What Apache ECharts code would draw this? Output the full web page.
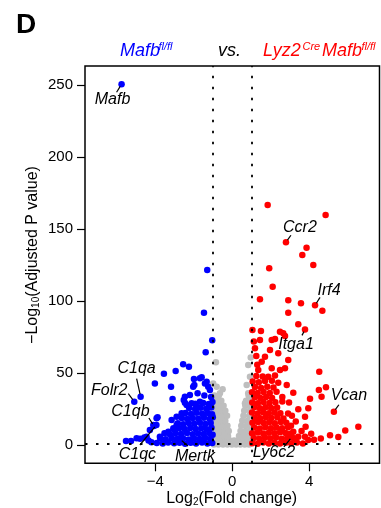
<!DOCTYPE html>
<html>
<head>
<meta charset="utf-8">
<script src="https://cdn.jsdelivr.net/npm/echarts@6/dist/echarts.min.js"></script>
<style>
html,body{margin:0;padding:0;background:#fff;}
#volcano{width:381px;height:508px;}
</style>
</head>
<body>
<div id="volcano"></div>
<script>
// 下调基因 (blue): [log2FC, -log10 padj]
var downGenes = [
    [-5.75,250.7],[-1.30,121.7],[-1.47,92],[-1.04,72.9],[-1.38,64.6],[-2.55,56.2],[-2.25,54.6],
    [-2.94,51.6],[-3.55,49.7],[-1.99,46],[-1.59,47.2],[-4.02,43],[-3.18,40.7],[-1.97,41.9],
    [-1.42,43],[-1.25,40.7],[-4.76,33.8],[-5.09,30.3],[-3.10,32.2],[-2.52,31.5],[-2.46,29.6],
    [-2.11,29.2],[-1.68,30.3],[-3.88,19.4],[-4.07,13.4],[-4.28,10.6],[-5.52,3],[-5.26,3],
    [-4.97,4.9],[-4.79,4.6],[-4.57,5.5],[-2.46,33.8],[-2.03,40.7],[-1.68,46.5],[-1.33,44.2],
    [-1.16,38.4],[-1.85,26.8],[-2.37,28],[-2.63,22.2],[-2.89,19.9],[-3.15,17.6],[-3.93,18.7],
    [-4.1,14.1],[-3.94,14.1],[-4.45,6],[-3.76,6],[-3.32,9.4],[-3.06,11.8],[-2.89,14.1],
    [-1.45,34.5],[-1.8,36.2],[-1.1,33.5],[-2.2,35],[-2.72,4.4],[-4.2,2.1],[-4.35,3.4],
    [-3.92,1.6],[-3.61,1.2],[-3.33,2.0],[-3.02,1.4],[-2.74,1.8],[-2.45,1.1],[-2.16,1.7],[-1.88,1.3],[-1.57,1.9],[-1.29,1.2],[-1.04,1.6],
    [-3.74,4.8],[-3.46,4.2],[-3.15,5.0],[-2.87,4.4],[-2.56,4.9],[-2.27,4.1],[-1.98,4.7],[-1.69,4.3],[-1.41,5.1],[-1.13,4.5],
    [-3.52,8.3],[-3.24,7.6],[-2.95,8.4],[-2.66,7.8],[-2.35,8.6],[-2.06,7.7],[-1.77,8.2],[-1.48,7.9],[-1.19,8.5],[-1.02,7.4],
    [-3.03,11.2],[-2.76,11.9],[-2.47,11.3],[-2.18,12.0],[-1.9,11.4],[-1.61,11.8],[-1.33,11.1],[-1.08,12.2],
    [-2.83,15.3],[-2.55,14.7],[-2.26,15.5],[-1.97,14.9],[-1.68,15.6],[-1.4,14.8],[-1.12,15.4],
    [-2.62,18.9],[-2.34,18.2],[-2.05,19.0],[-1.76,18.4],[-1.47,19.1],[-1.18,18.3],[-1.01,19.4],
    [-2.43,22.4],[-2.14,21.8],[-1.85,22.6],[-1.56,21.9],[-1.27,22.5],[-1.05,21.6],
    [-2.24,25.9],[-1.93,25.2],[-1.64,26.1],[-1.35,25.4],[-1.09,26.3],
    [-1.92,28.8],[-1.51,29.4],[-1.22,28.6],[-1.03,30.1]
];

// 不显著 (grey)
var nsGenes = [
    [-0.85,57.6],[0.96,61],[0.83,55.8],[0.92,47.6],[-0.99,43],[-0.81,40.7],[-0.64,36.1],
    [0.75,41.9],[0.83,36.1],[0.66,29.2],[-0.5,38.9],
    [-0.95,0.6],[-0.72,0.6],[-0.48,0.6],[-0.25,0.6],[-0.02,0.6],[0.2,0.6],[0.42,0.6],[0.65,0.6],[0.87,0.6],
    [-0.85,3.4],[-0.6,3.4],[-0.36,3.4],[-0.12,3.4],[0.1,3.4],[0.33,3.4],[0.56,3.4],[0.78,3.4],[0.97,3.4],
    [-0.95,6.5],[-0.71,6.5],[-0.47,6.5],[-0.22,6.5],[0.35,6.5],[0.58,6.5],[0.81,6.5],
    [-0.86,10],[-0.62,10],[-0.38,10],[-0.18,10],[0.43,10],[0.68,10],[0.92,10],
    [-0.96,13.5],[-0.72,13.5],[-0.48,13.5],[-0.25,13.5],[0.47,13.5],[0.74,13.5],[0.95,13.5],
    [-0.85,17],[-0.6,17],[-0.36,17],[0.52,17],[0.8,17],
    [-0.95,20.5],[-0.7,20.5],[-0.45,20.5],[-0.27,20.5],[0.58,20.5],[0.88,20.5],
    [-0.84,24],[-0.6,24],[-0.36,24],[0.62,24],[0.92,24],
    [-0.95,27.5],[-0.7,27.5],[-0.45,27.5],[0.68,27.5],[0.86,27.5],
    [-0.82,31],[-0.57,31],[0.72,31],[0.96,31],
    [-0.93,34.5],[-0.7,34.5],[0.85,34.5]
];

// 上调基因 (red)
var upGenes = [
    [1.84,166.9],[4.85,159.9],[2.79,141],[3.86,137.2],[3.64,132.2],[4.21,125.2],[1.92,122.9],
    [2.10,110.1],[1.44,101.4],[2.91,100.7],[3.57,98.6],[4.30,97.2],[4.68,93.5],[2.91,92.1],
    [3.43,84],[3.78,80.5],[1.49,79.4],[2.48,78.9],[2.65,77.8],[2.74,75.9],[1.44,73.1],
    [2.05,73.1],[2.22,73.8],[1.18,67.4],[1.96,66.2],[2.39,63.9],[2.91,59.2],[1.70,61.5],
    [1.53,58],[2.05,53.5],[2.48,52.3],[2.74,53.5],[1.35,52.3],[4.52,51.1],[1.87,47.6],
    [2.39,43.5],[2.83,41.9],[4.50,38.4],[4.87,40.3],[3.17,36.5],[4.04,32.4],[4.64,33.8],
    [5.28,23.3],[3.95,25.7],[3.43,25],[3.78,19.9],[6.55,12.9],[5.87,10.3],[5.51,5.7],
    [5.08,7],[4.6,4.8],[4.25,3.9],[3.95,3.7],[3.17,9.4],[3.43,6],[3.81,12.9],[3.78,6],
    [1.05,80],[1.25,62],[1.12,72],[1.3,56],[3.1,5.8],
    [2.6,33.6],[2.95,29.8],[3.1,20.5],[3.3,16.5],[3.05,13.5],[2.9,22],[3.6,10],[4.1,8],
    [1.04,1.5],[1.32,1.1],[1.61,1.9],[1.9,1.3],[2.19,1.7],[2.48,1.2],[2.77,1.8],[3.06,1.4],[3.36,1.9],[3.67,1.3],
    [1.12,5.1],[1.41,4.6],[1.7,5.3],[1.99,4.8],[2.28,5.4],[2.57,4.5],[2.86,5.2],[3.25,4.7],
    [1.03,8.4],[1.32,8.9],[1.61,8.2],[1.9,8.8],[2.19,8.3],[2.48,9.0],[2.77,8.5],[3.02,8.1],
    [1.14,12.3],[1.43,11.7],[1.72,12.5],[2.01,11.9],[2.3,12.4],[2.59,11.8],[2.9,12.6],
    [1.05,15.6],[1.34,16.1],[1.63,15.4],[1.92,16.0],[2.21,15.3],[2.52,16.2],[2.81,15.7],
    [1.16,19.2],[1.45,18.7],[1.74,19.5],[2.03,18.9],[2.34,19.4],[2.66,18.6],
    [1.03,22.8],[1.32,22.1],[1.61,22.9],[1.9,22.3],[2.2,22.7],[2.5,22.2],
    [1.15,26.4],[1.44,25.8],[1.73,26.5],[2.02,25.9],[2.33,26.3],
    [1.04,29.7],[1.33,29.2],[1.62,30.0],[1.93,29.4],[2.24,29.9],[2.6,30.4],
    [1.17,33.4],[1.46,32.8],[1.76,33.5],[2.07,32.9],
    [1.03,36.9],[1.32,36.3],[1.63,37.0],[1.95,36.4],[2.3,37.2],
    [1.18,40.5],[1.5,39.8],[1.82,40.6],[2.14,40.1],
    [1.06,44.3],[1.38,43.8],[1.7,44.6],[2.06,44.9],
    [1.25,48.2],[1.58,47.8],[2.22,48.5]
];

// 标注基因
var labelGenes = ['Mafb','Ccr2','Irf4','Itga1','Vcan','Ly6c2','Mertk','C1qc','C1qa','Folr2','C1qb'];
var labelFC = [-5.75, 2.79, 4.30, 3.78, 5.28, 3.1, -2.72, -3.94, -4.76, -5.09, -4.07];
var labelP = [250.7, 141, 97.2, 80.5, 23.3, 5.8, 4.4, 14.1, 33.8, 30.3, 13.4];

var xTicks = [-4, 0, 4];
var yTicks = [0, 50, 100, 150, 200, 250];
var fcCut = [-1, 1];
var pCut = 1.3;

// 标注线终点 / 文字中心 (像素偏移)
var labelOffsets = {
    Mafb: [-5, 8, -9, 15],
    Ccr2: [5, -7, 14, -15],
    Irf4: [5, -8, 14, -15],
    Itga1: [-3, 6, -9, 15],
    Vcan: [5, -7, 15, -16],
    Ly6c2: [-8, 10, -18, 16],
    Mertk: [8, 7, 15, 17.5],
    C1qc: [-16.5, 20, -19, 30],
    C1qa: [-4, -18, -4, -28],
    Folr2: [-6, -8, -25, -11],
    C1qb: [-5, -8, -23.5, -14]
};

var FONT = '"Liberation Sans", Arial, sans-serif';
var chart = echarts.init(document.getElementById('volcano'), null, {renderer: 'canvas'});

var markLines = fcCut.map(function(v){ return {xAxis: v}; });
markLines.push({yAxis: pCut});

var option = {
    animation: false,
    grid: {
        left: 85, top: 66, right: 1.5, bottom: 44.7,
        show: true, borderColor: '#000', borderWidth: 1.5, backgroundColor: 'transparent'
    },
    xAxis: {
        type: 'value', min: -7.65, max: 7.65,
        axisLine: {show: false, onZero: false},
        splitLine: {show: false},
        axisTick: {show: true, length: 8, customValues: xTicks, lineStyle: {color: '#000', width: 1.2}},
        axisLabel: {customValues: xTicks, margin: 11, color: '#000', fontSize: 15, fontFamily: FONT,
            formatter: function(v){ return v < 0 ? '\u2212' + Math.abs(v) : String(v); }}
    },
    yAxis: {
        type: 'value', min: -12.5, max: 263.4,
        axisLine: {show: false, onZero: false},
        splitLine: {show: false},
        axisTick: {show: true, length: 8, customValues: yTicks, lineStyle: {color: '#000', width: 1.2}},
        axisLabel: {customValues: yTicks, margin: 12, color: '#000', fontSize: 15, fontFamily: FONT}
    },
    series: [
        {type: 'scatter', data: nsGenes, symbolSize: 6.5, itemStyle: {color: '#BEBEBE', opacity: 1}, z: 2, silent: true},
        {type: 'scatter', data: downGenes, symbolSize: 6.5, itemStyle: {color: '#0000FF', opacity: 1}, z: 3, silent: true},
        {type: 'scatter', data: upGenes, symbolSize: 6.5, itemStyle: {color: '#FF0000', opacity: 1}, z: 3, silent: true},
        {
            type: 'scatter', data: [], z: 5, silent: true,
            markLine: {
                silent: true, symbol: ['none', 'none'], label: {show: false},
                lineStyle: {color: '#000', type: [2.5, 8.5], width: 1.8},
                data: markLines
            }
        },
        {
            type: 'custom', z: 6, silent: true, clip: false,
            data: labelFC.map(function(v, i){ return [v, labelP[i]]; }),
            renderItem: function(params, api){
                var p = api.coord([api.value(0), api.value(1)]);
                var name = labelGenes[params.dataIndex];
                var off = labelOffsets[name];
                var len = Math.sqrt(off[0] * off[0] + off[1] * off[1]);
                var sx = p[0] + off[0] / len * 2.5, sy = p[1] + off[1] / len * 2.5;
                return {
                    type: 'group',
                    children: [
                        {type: 'line', shape: {x1: sx, y1: sy, x2: p[0] + off[0], y2: p[1] + off[1]},
                            style: {stroke: '#000', lineWidth: 1.2}},
                        {type: 'text', x: p[0] + off[2], y: p[1] + off[3],
                            style: {text: name, fill: '#000', fontSize: 16, fontStyle: 'italic', fontFamily: FONT,
                                align: 'center', verticalAlign: 'middle'}}
                    ]
                };
            }
        }
    ],
    graphic: [
        {type: 'text', x: 16, y: 25.5, style: {text: 'D', fill: '#000', fontSize: 28, fontWeight: 'bold', fontFamily: FONT, verticalAlign: 'middle'}},
        {type: 'text', x: 120, y: 51, style: {text: 'Mafb', fill: '#0000FF', fontSize: 18, fontStyle: 'italic', fontFamily: FONT, verticalAlign: 'middle'}},
        {type: 'text', x: 158.5, y: 46.5, style: {text: 'fl/fl', fill: '#0000FF', fontSize: 11, fontStyle: 'italic', fontFamily: FONT, verticalAlign: 'middle'}},
        {type: 'text', x: 218, y: 51, style: {text: 'vs.', fill: '#000', fontSize: 18, fontStyle: 'italic', fontFamily: FONT, verticalAlign: 'middle'}},
        {type: 'text', x: 263, y: 51, style: {text: 'Lyz2', fill: '#FF0000', fontSize: 18, fontStyle: 'italic', fontFamily: FONT, verticalAlign: 'middle'}},
        {type: 'text', x: 302.5, y: 46.5, style: {text: 'Cre', fill: '#FF0000', fontSize: 11, fontStyle: 'italic', fontFamily: FONT, verticalAlign: 'middle'}},
        {type: 'text', x: 322, y: 51, style: {text: 'Mafb', fill: '#FF0000', fontSize: 18, fontStyle: 'italic', fontFamily: FONT, verticalAlign: 'middle'}},
        {type: 'text', x: 361.5, y: 46.5, style: {text: 'fl/fl', fill: '#FF0000', fontSize: 11, fontStyle: 'italic', fontFamily: FONT, verticalAlign: 'middle'}},
        {type: 'text', x: 231.7, y: 499, style: {
            text: 'Log{sub|2}(Fold change)', fill: '#000', fontSize: 16, fontFamily: FONT, align: 'center', verticalAlign: 'middle',
            rich: {sub: {fontSize: 10, fontFamily: FONT, fill: '#000', verticalAlign: 'bottom', padding: [7, 0, 0, 0]}}
        }},
        {type: 'text', x: 33, y: 255, rotation: Math.PI / 2, style: {
            text: '\u2212Log{sub|10}(Adjusted P value)', fill: '#000', fontSize: 16, fontFamily: FONT, align: 'center', verticalAlign: 'middle',
            rich: {sub: {fontSize: 10, fontFamily: FONT, fill: '#000', verticalAlign: 'bottom', padding: [7, 0, 0, 0]}}
        }}
    ]
};
chart.setOption(option);
</script>
</body>
</html>
